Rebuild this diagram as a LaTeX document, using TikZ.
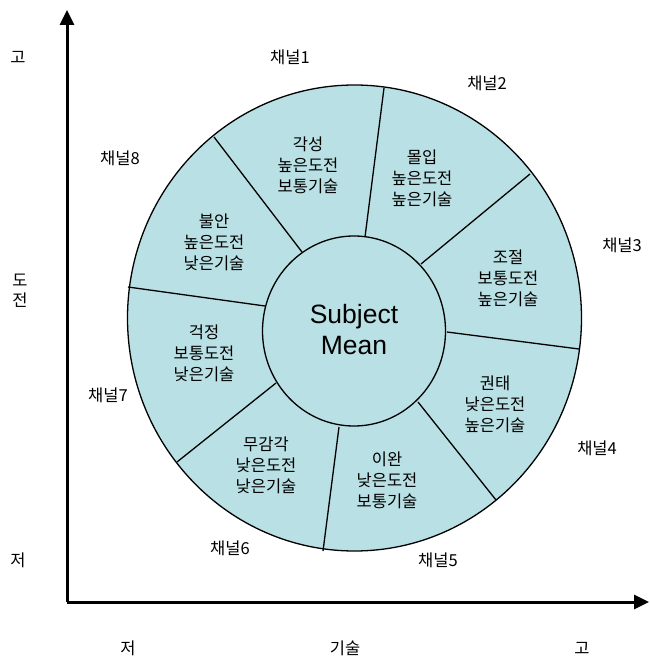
\documentclass[tikz,border=0pt]{standalone}
\usepackage{fontspec}
\setmainfont{Noto Sans CJK KR}
\newfontfamily\latinsans{Liberation Sans}
\usetikzlibrary{arrows.meta}
\definecolor{colorSeg}{RGB}{185,224,228}
\tikzset{
   every path/.style={>={Triangle[length=15pt,width=14pt]}},
   axis/.style={->,line width=3pt},
   ring/.style={fill=colorSeg,draw=black,line width=1.3pt},
   divider/.style={draw=black,line width=1.3pt},
   flow/.style={align=center,font=\fontsize{16.5}{21}\selectfont},
   chan/.style={font=\fontsize{16.5}{18}\selectfont},
   axlab/.style={align=center,font=\fontsize{16.5}{20}\selectfont},
   mean/.style={align=center,font=\latinsans\fontsize{26.5}{31}\selectfont},
}

\begin{document}
\begin{tikzpicture}[x=1pt,y=-1pt]

        \useasboundingbox (0,0) rectangle (649,660);

        % axes
        \coordinate (org) at (67,602);
        \coordinate (ytip) at (67,10);
        \coordinate (xtip) at (649,602);
        \draw[axis] (org) -- (ytip);
        \draw[axis] (org) -- (xtip);

        \node[axlab] (yhi)  at (18,57)  {고};
        \node[axlab] (ymid) at (20,291) {도\\전};
        \node[axlab] (ylo)  at (18,560) {저};
        \node[axlab] (xlo)  at (128,648) {저};
        \node[axlab] (xmid) at (345,648) {기술};
        \node[axlab] (xhi)  at (582,648) {고};

        % wheel
        \draw[ring] (354.5,318) ellipse [x radius=227, y radius=233];
        \draw[ring] (354,331) ellipse [x radius=91.5, y radius=95];

        \coordinate (o1) at (214,137);  \coordinate (i1) at (302,252);
        \coordinate (o2) at (384,88);   \coordinate (i2) at (365,237);
        \coordinate (o3) at (530,174);  \coordinate (i3) at (421,264);
        \coordinate (o4) at (579,349);  \coordinate (i4) at (447,332);
        \coordinate (o5) at (496,500);  \coordinate (i5) at (418,402);
        \coordinate (o6) at (323,551);  \coordinate (i6) at (339,427);
        \coordinate (o7) at (177,462);  \coordinate (i7) at (276,383);
        \coordinate (o8) at (128,287);  \coordinate (i8) at (265,306);

        \draw[divider] (o1) -- (i1);
        \draw[divider] (o2) -- (i2);
        \draw[divider] (o3) -- (i3);
        \draw[divider] (o4) -- (i4);
        \draw[divider] (o5) -- (i5);
        \draw[divider] (o6) -- (i6);
        \draw[divider] (o7) -- (i7);
        \draw[divider] (o8) -- (i8);

        \node[mean] (subj) at (354,330) {Subject\\Mean};

        \node[flow] (s1) at (308,165) {각성\\높은도전\\보통기술};
        \node[flow] (s2) at (422,178) {몰입\\높은도전\\높은기술};
        \node[flow] (s3) at (508,278) {조절\\보통도전\\높은기술};
        \node[flow] (s4) at (495,404) {권태\\낮은도전\\높은기술};
        \node[flow] (s5) at (387,480) {이완\\낮은도전\\보통기술};
        \node[flow] (s6) at (266,465) {무감각\\낮은도전\\낮은기술};
        \node[flow] (s7) at (204,353) {걱정\\보통도전\\낮은기술};
        \node[flow] (s8) at (214,242) {불안\\높은도전\\낮은기술};

        \node[chan] (c1) at (290,57)  {채널1};
        \node[chan] (c2) at (487,83)  {채널2};
        \node[chan] (c3) at (622,245) {채널3};
        \node[chan] (c4) at (597,448) {채널4};
        \node[chan] (c5) at (438,560) {채널5};
        \node[chan] (c6) at (230,548) {채널6};
        \node[chan] (c7) at (108,395) {채널7};
        \node[chan] (c8) at (120,158) {채널8};

      \end{tikzpicture}
\end{document}
